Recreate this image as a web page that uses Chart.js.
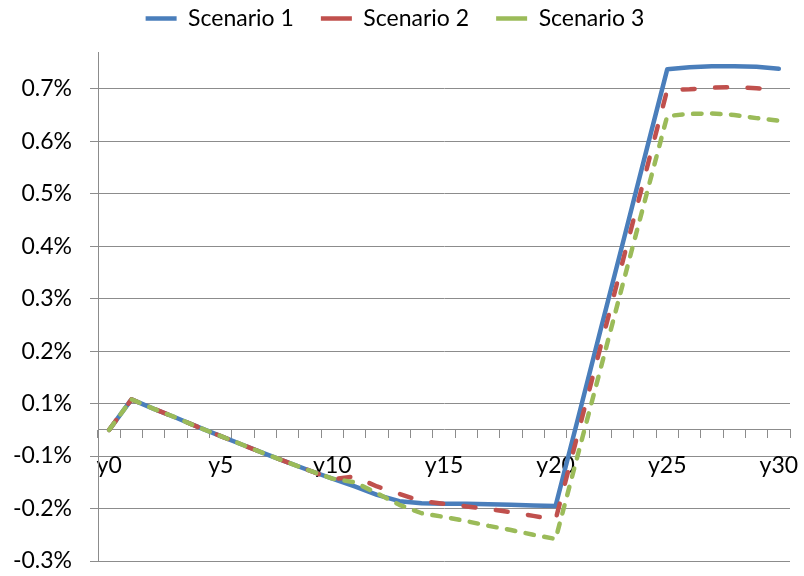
<!DOCTYPE html>
<html>
<head>
<meta charset="utf-8">
<script src="https://cdn.jsdelivr.net/npm/chart.js@4/dist/chart.umd.min.js"></script>
<style>
  html, body { margin: 0; padding: 0; background: #fff; }
  #wrap { width: 804px; height: 576px; }
</style>
</head>
<body>
<div id="wrap"><canvas id="chart" width="804" height="576"></canvas></div>
<script>
// Years on the horizontal axis
const years = ['y0','y1','y2','y3','y4','y5','y6','y7','y8','y9','y10',
  'y11','y12','y13','y14','y15','y16','y17','y18','y19','y20',
  'y21','y22','y23','y24','y25','y26','y27','y28','y29','y30'];

// Values in percent
const scenario1 = [0, 0.058, 0.040, 0.023, 0.005, -0.012, -0.029, -0.046, -0.062, -0.078, -0.093,
  -0.108, -0.124, -0.136, -0.140, -0.141, -0.141, -0.142, -0.143, -0.144, -0.145,
  0.021, 0.188, 0.354, 0.521, 0.687, 0.691, 0.693, 0.693, 0.692, 0.688];
const scenario2 = [0, 0.058, 0.040, 0.023, 0.005, -0.012, -0.029, -0.046, -0.062, -0.078, -0.094,
  -0.089, -0.108, -0.122, -0.136, -0.141, -0.146, -0.151, -0.157, -0.164, -0.171,
  -0.007, 0.156, 0.320, 0.484, 0.648, 0.649, 0.652, 0.653, 0.651, 0.646];
const scenario3 = [0, 0.058, 0.040, 0.023, 0.005, -0.012, -0.029, -0.046, -0.062, -0.078, -0.093,
  -0.100, -0.121, -0.143, -0.159, -0.166, -0.174, -0.183, -0.191, -0.200, -0.208,
  -0.047, 0.114, 0.276, 0.437, 0.598, 0.602, 0.603, 0.600, 0.594, 0.589];

// Vertical axis ticks and their printed labels
const yTickValues = [-0.25, -0.15, -0.05, 0.05, 0.15, 0.25, 0.35, 0.45, 0.55, 0.65];
const yTickLabels = ['-0.3%', '-0.2%', '-0.1%', '0.1%', '0.2%', '0.3%', '0.4%', '0.5%', '0.6%', '0.7%'];

const FONT = { family: 'Lato', size: 23 };
const AXIS_GREY = '#8c8c8c';

// Fixes the legend band height and sets its row near the top edge
const legendBand = {
  id: 'legendBand',
  beforeInit(chart) {
    const leg = chart.legend;
    const baseFit = leg.fit.bind(leg);
    leg.fit = function () { baseFit(); this.height = 52; };
  },
  afterLayout(chart) {
    chart.legend.top -= 20;
  }
};

new Chart(document.getElementById('chart'), {
  type: 'line',
  data: {
    labels: years,
    datasets: [
      { label: 'Scenario 1', data: scenario1, borderColor: '#4a7ebb', backgroundColor: '#4a7ebb',
        borderWidth: 4.5, order: 2, borderCapStyle: 'round', borderJoinStyle: 'round' },
      { label: 'Scenario 2', data: scenario2, borderColor: '#c0504d', backgroundColor: '#c0504d',
        borderWidth: 4.5, order: 1, borderDash: [12, 20.5], borderCapStyle: 'round', borderJoinStyle: 'round' },
      { label: 'Scenario 3', data: scenario3, borderColor: '#9bbb59', backgroundColor: '#9bbb59',
        borderWidth: 4.5, order: 0, borderDash: [8.5, 10.5], borderCapStyle: 'round', borderJoinStyle: 'round' }
    ]
  },
  options: {
    responsive: false,
    animation: false,
    layout: { padding: { left: 0, right: 14, top: 0, bottom: 15 } },
    elements: { point: { radius: 0, hoverRadius: 0 }, line: { tension: 0 } },
    plugins: {
      tooltip: { enabled: false },
      legend: {
        position: 'top',
        labels: {
          usePointStyle: true,
          pointStyle: 'line',
          pointStyleWidth: 31,
          padding: 27,
          color: '#000',
          font: FONT,
          sort: (a, b) => a.datasetIndex - b.datasetIndex
        }
      }
    },
    scales: {
      x: {
        type: 'category',
        position: { y: 0 },
        offset: true,
        afterFit: (scale) => { scale.paddingLeft = 0; scale.paddingRight = 0; },
        grid: { display: true, drawOnChartArea: false, drawTicks: true, tickLength: 8, offset: true, color: AXIS_GREY },
        border: { color: AXIS_GREY, width: 1 },
        ticks: {
          autoSkip: false,
          maxRotation: 0,
          minRotation: 0,
          padding: 14,
          color: '#000',
          font: FONT,
          callback: (v, i) => (i % 5 === 0 ? years[i] : '')
        }
      },
      y: {
        min: -0.25,
        max: 0.72,
        afterBuildTicks: (scale) => { scale.ticks = yTickValues.map(v => ({ value: v })); },
        afterFit: (scale) => { scale.width = 98; scale.paddingTop = 0; scale.paddingBottom = 0; },
        grid: { color: AXIS_GREY, tickLength: 8, lineWidth: 1 },
        border: { color: AXIS_GREY, width: 1 },
        ticks: {
          padding: 18,
          color: '#000',
          font: FONT,
          callback: (v, i) => yTickLabels[i]
        }
      }
    }
  },
  plugins: [legendBand]
});
</script>
</body>
</html>
